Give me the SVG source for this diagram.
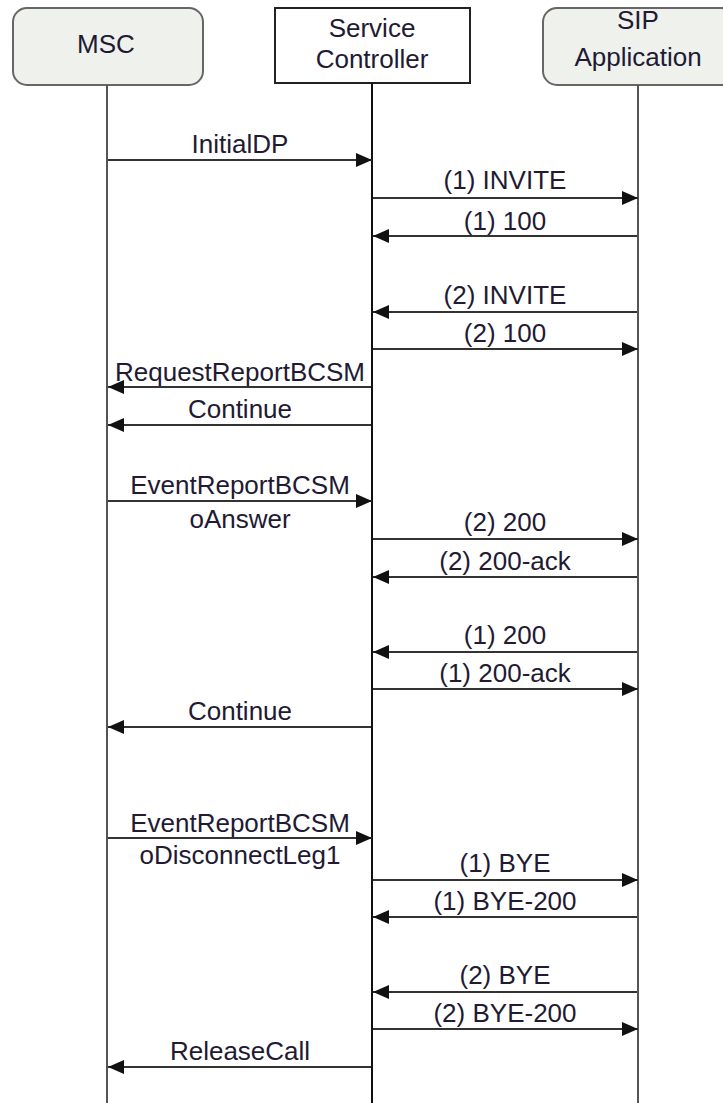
<svg xmlns="http://www.w3.org/2000/svg" width="723" height="1103" viewBox="0 0 723 1103">
<defs>
<style>
.box{fill:#eef1ec;stroke:#666;stroke-width:2}
.sbox{fill:#fff;stroke:#222;stroke-width:2}
.life{stroke:#555;stroke-width:2;fill:none}
.slife{stroke:#111;stroke-width:2;fill:none}
.msg{stroke:#333;stroke-width:2;fill:none;marker-end:url(#ah)}
text{font-family:"Liberation Sans",Arial,sans-serif;font-size:26px;fill:#221a33;text-anchor:middle}
</style>
<marker id="ah" markerUnits="userSpaceOnUse" markerWidth="16" markerHeight="14" refX="16" refY="7" orient="auto">
<path d="M0,0 L16,7 L0,14 z" fill="#111"/>
</marker>
</defs>
<rect width="723" height="1103" fill="#fff"/>
<g id="msc">
<rect class="box" x="13" y="8" width="190" height="77" rx="14"/>
<text x="106" y="53">MSC</text>
<line class="life" x1="107" y1="85" x2="107" y2="1103"/>
</g>
<g id="sc">
<rect class="sbox" x="275" y="8" width="195" height="75"/>
<text x="372" y="37">Service</text>
<text x="372" y="68">Controller</text>
<line class="slife" x1="372" y1="83" x2="372" y2="1103"/>
</g>
<g id="sip">
<rect class="box" x="543" y="8" width="192" height="77" rx="14"/>
<text x="638" y="29">SIP</text>
<text x="638" y="66">Application</text>
<line class="life" x1="638" y1="85" x2="638" y2="1103"/>
</g>
<g id="connectors">
<line class="msg" x1="108" y1="160" x2="372" y2="160"/>
<line class="msg" x1="373" y1="198" x2="638" y2="198"/>
<line class="msg" x1="637" y1="236" x2="373" y2="236"/>
<line class="msg" x1="637" y1="312" x2="373" y2="312"/>
<line class="msg" x1="373" y1="349" x2="638" y2="349"/>
<line class="msg" x1="371" y1="387" x2="108" y2="387"/>
<line class="msg" x1="371" y1="425" x2="108" y2="425"/>
<line class="msg" x1="108" y1="501" x2="372" y2="501"/>
<line class="msg" x1="373" y1="539" x2="638" y2="539"/>
<line class="msg" x1="637" y1="577" x2="373" y2="577"/>
<line class="msg" x1="637" y1="652" x2="373" y2="652"/>
<line class="msg" x1="373" y1="689" x2="638" y2="689"/>
<line class="msg" x1="371" y1="727" x2="108" y2="727"/>
<line class="msg" x1="108" y1="838" x2="372" y2="838"/>
<line class="msg" x1="373" y1="880" x2="638" y2="880"/>
<line class="msg" x1="637" y1="917" x2="373" y2="917"/>
<line class="msg" x1="637" y1="992" x2="373" y2="992"/>
<line class="msg" x1="373" y1="1029" x2="638" y2="1029"/>
<line class="msg" x1="371" y1="1067" x2="108" y2="1067"/>
</g>
<g id="labels">
<text x="240" y="153">InitialDP</text>
<text x="505" y="189">(1) INVITE</text>
<text x="505" y="230">(1) 100</text>
<text x="505" y="304">(2) INVITE</text>
<text x="505" y="342">(2) 100</text>
<text x="240" y="381">RequestReportBCSM</text>
<text x="240" y="418">Continue</text>
<text x="240" y="494">EventReportBCSM</text>
<text x="240" y="528">oAnswer</text>
<text x="505" y="531">(2) 200</text>
<text x="505" y="570">(2) 200-ack</text>
<text x="505" y="644">(1) 200</text>
<text x="505" y="682">(1) 200-ack</text>
<text x="240" y="720">Continue</text>
<text x="240" y="832">EventReportBCSM</text>
<text x="240" y="864">oDisconnectLeg1</text>
<text x="505" y="872">(1) BYE</text>
<text x="505" y="910">(1) BYE-200</text>
<text x="505" y="984">(2) BYE</text>
<text x="505" y="1022">(2) BYE-200</text>
<text x="240" y="1060">ReleaseCall</text>
</g>
</svg>
